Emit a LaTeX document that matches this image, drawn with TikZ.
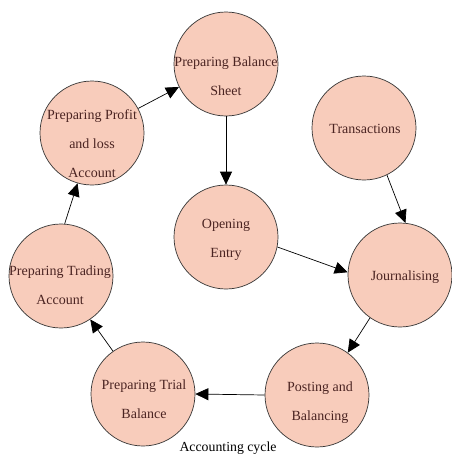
\documentclass[tikz,border=0pt]{standalone}
\usepackage{fontspec}
\setmainfont{Liberation Serif}
\usetikzlibrary{arrows.meta}

\definecolor{peach}{RGB}{248,204,187}
\definecolor{inkbrown}{RGB}{75,36,34}

\begin{document}
\begin{tikzpicture}[x=1pt, y=-1pt, ->, >={Triangle[length=13pt, width=12pt]}, line width=0.7pt,
    stage/.style={circle, draw=black!80, fill=peach, minimum size=104pt, inner sep=0pt},
    stagetext/.style={align=center, text=inkbrown, font=\fontsize{14}{29}\selectfont}]

  \useasboundingbox (0,0) rectangle (451,455);

  % Stages
  \node[stage] (bal) at (226,64) {};
  \node[stage] (pl) at (92,133) {};
  \node[stage] (trans) at (364,128) {};
  \node[stage] (open) at (226,237) {};
  \node[stage] (journ) at (400,275) {};
  \node[stage] (trade) at (61,276) {};
  \node[stage] (trial) at (143,394) {};
  \node[stage] (post) at (317,395) {};

  % Texts
  \node[stagetext] (bal-t) at (226,76) {Preparing Balance\\Sheet};
  \node[stagetext] (pl-t) at (92,144) {Preparing Profit\\and loss\\Account};
  \node[stagetext] (trans-t) at (365,129) {Transactions};
  \node[stagetext] (open-t) at (226,240) {Opening\\Entry};
  \node[stagetext] (journ-t) at (405,277) {Journalising};
  \node[stagetext] (trade-t) at (60,285) {Preparing Trading\\Account};
  \node[stagetext] (trial-t) at (144,399) {Preparing Trial\\Balance};
  \node[stagetext] (post-t) at (320,403) {Posting and\\Balancing};

  % Transitions
  \path (trans.-64) edge (journ.84);
  \path (open.-11) edge (journ.177);
  \path (journ.-125) edge (post.54);
  \path (post.180) edge (trial.0);
  \path (trial.125) edge (trade.-56);
  \path (trade.86) edge (pl.-106);
  \path (pl.28) edge (bal.-154);
  \path (bal.-90) edge (open.90);

  % Caption
  \node[font=\fontsize{13.8}{16}\selectfont, anchor=base] (cap) at (228,451) {Accounting cycle};

\end{tikzpicture}
\end{document}
